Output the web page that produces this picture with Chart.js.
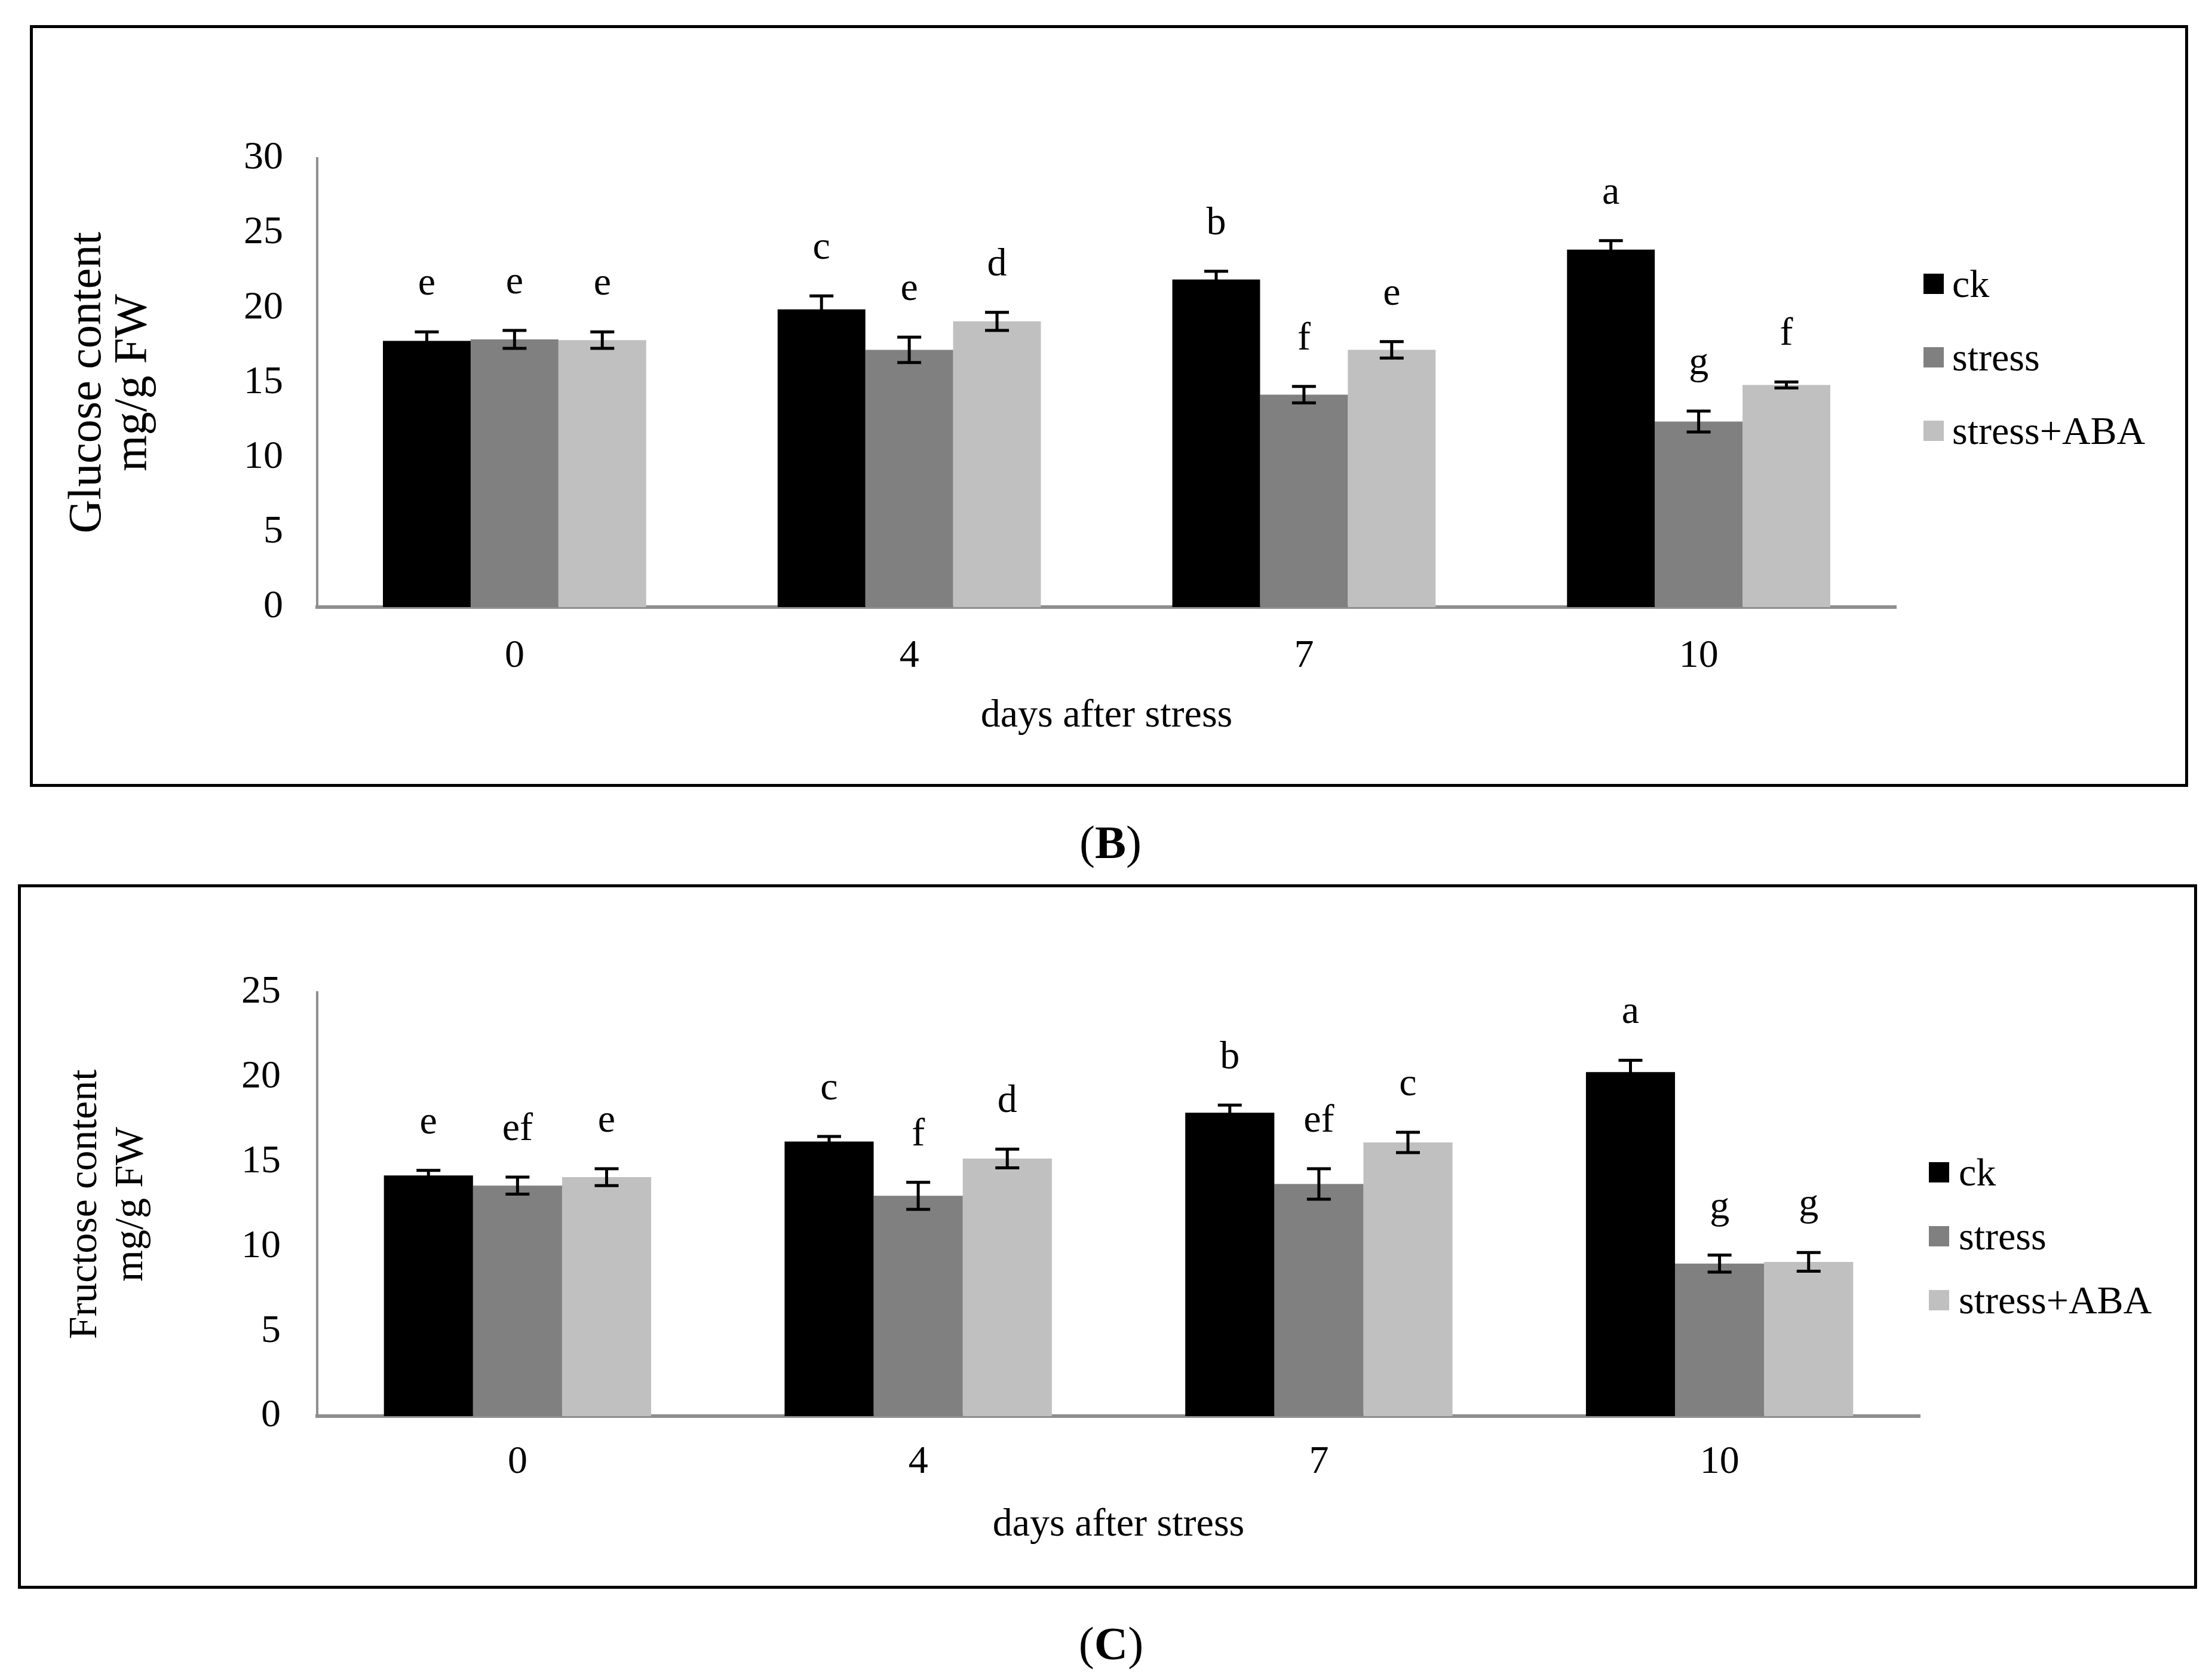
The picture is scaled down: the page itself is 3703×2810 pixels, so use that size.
<!DOCTYPE html>
<html>
<head>
<meta charset="utf-8">
<title>Glucose and fructose content after stress</title>
<script src="https://cdn.jsdelivr.net/npm/chart.js@4.4.1/dist/chart.umd.min.js"></script>
<style>
    body {
        margin: 0;
        width: 3703px;
        height: 2810px;
        background: #fff;
        position: relative;
        overflow: hidden;
        font-family: 'Liberation Serif', 'Times New Roman', serif;
    }
    .frame {
        position: absolute;
        border: 5px solid #000;
        box-sizing: border-box;
    }
    canvas {
        position: absolute;
    }
    .caption {
        position: absolute;
        font-size: 78px;
        line-height: 1;
        transform: translate(-50%, -50%);
        white-space: nowrap;
    }
</style>
</head>
<body>
<div class="frame" style="left:50px;top:42px;width:3613px;height:1275px"></div>
<canvas id="glucose-chart" width="3600" height="1260" style="left:55px;top:47px"></canvas>
<div class="caption" style="left:1859px;top:1410px">(<b>B</b>)</div>

<div class="frame" style="left:30px;top:1480px;width:3648px;height:1179px"></div>
<canvas id="fructose-chart" width="3638" height="1166" style="left:35px;top:1485px"></canvas>
<div class="caption" style="left:1860px;top:2751px">(<b>C</b>)</div>

<script>
// Days after stress (x categories)
const days = ['0', '4', '7', '10'];
const seriesNames = ['ck', 'stress', 'stress+ABA'];
const seriesColors = ['#000000', '#808080', '#c0c0c0'];

// Glucose content, mg/g FW
const glucoseCk = [17.8, 19.9, 21.9, 23.9];
const glucoseStress = [17.9, 17.2, 14.2, 12.4];
const glucoseAba = [17.85, 19.1, 17.2, 14.85];
const glucoseCkErr = [0.6, 0.9, 0.55, 0.6];
const glucoseStressErr = [0.6, 0.85, 0.55, 0.7];
const glucoseAbaErr = [0.55, 0.6, 0.55, 0.2];
const glucoseCkLetters = ['e', 'c', 'b', 'a'];
const glucoseStressLetters = ['e', 'e', 'f', 'g'];
const glucoseAbaLetters = ['e', 'd', 'e', 'f'];
const glucoseTicks = [0, 5, 10, 15, 20, 25, 30];

// Fructose content, mg/g FW
const fructoseCk = [14.2, 16.2, 17.9, 20.3];
const fructoseStress = [13.6, 13.0, 13.7, 9.0];
const fructoseAba = [14.1, 15.2, 16.15, 9.1];
const fructoseCkErr = [0.3, 0.3, 0.45, 0.7];
const fructoseStressErr = [0.5, 0.8, 0.9, 0.5];
const fructoseAbaErr = [0.5, 0.55, 0.6, 0.55];
const fructoseCkLetters = ['e', 'c', 'b', 'a'];
const fructoseStressLetters = ['ef', 'f', 'ef', 'g'];
const fructoseAbaLetters = ['e', 'd', 'c', 'g'];
const fructoseTicks = [0, 5, 10, 15, 20, 25];

const FONT = "'Liberation Serif', 'Times New Roman', serif";
const AXIS_GRAY = '#8e8e8e';

Chart.defaults.font.family = FONT;
Chart.defaults.color = '#000';

// Error bars (mean +/- SD) drawn over every bar
const errorBarPlugin = {
    id: 'errorBars',
    afterDatasetsDraw(chart, args, opts) {
        const ctx = chart.ctx;
        const yScale = chart.scales.y;
        const half = opts.capWidth / 2;
        ctx.save();
        ctx.strokeStyle = '#000';
        ctx.lineWidth = opts.lineWidth;
        chart.data.datasets.forEach((ds, i) => {
            chart.getDatasetMeta(i).data.forEach((bar, j) => {
                const top = yScale.getPixelForValue(ds.data[j] + ds.errors[j]);
                const bottom = yScale.getPixelForValue(ds.data[j] - ds.errors[j]);
                ctx.beginPath();
                ctx.moveTo(bar.x, top);
                ctx.lineTo(bar.x, bottom);
                ctx.moveTo(bar.x - half, top);
                ctx.lineTo(bar.x + half, top);
                ctx.moveTo(bar.x - half, bottom);
                ctx.lineTo(bar.x + half, bottom);
                ctx.stroke();
            });
        });
        ctx.restore();
    }
};

// Significance letters above the error bars
const letterPlugin = {
    id: 'letters',
    afterDatasetsDraw(chart, args, opts) {
        const ctx = chart.ctx;
        const yScale = chart.scales.y;
        ctx.save();
        ctx.fillStyle = '#000';
        ctx.font = opts.size + 'px ' + FONT;
        ctx.textAlign = 'center';
        ctx.textBaseline = 'alphabetic';
        chart.data.datasets.forEach((ds, i) => {
            chart.getDatasetMeta(i).data.forEach((bar, j) => {
                const top = yScale.getPixelForValue(ds.data[j] + ds.errors[j]);
                ctx.fillText(ds.letters[j], bar.x, top - opts.gap);
            });
        });
        ctx.restore();
    }
};

// Legend on the right, Excel style (square marker + label)
const sideLegendPlugin = {
    id: 'sideLegend',
    afterDraw(chart, args, opts) {
        const ctx = chart.ctx;
        const area = chart.chartArea;
        const left = area.right + opts.dx;
        ctx.save();
        ctx.font = opts.size + 'px ' + FONT;
        ctx.textAlign = 'left';
        ctx.textBaseline = 'alphabetic';
        chart.data.datasets.forEach((ds, i) => {
            const cy = area.top + opts.rowTop + i * opts.rowGap;
            ctx.fillStyle = ds.backgroundColor;
            ctx.fillRect(left, cy - opts.box / 2, opts.box, opts.box);
            ctx.fillStyle = '#000';
            ctx.fillText(ds.label, left + opts.textGap, cy + 22);
        });
        ctx.restore();
    }
};

function buildDatasets(values, errors, letters) {
    return values.map((data, i) => ({
        label: seriesNames[i],
        data: data,
        errors: errors[i],
        letters: letters[i],
        backgroundColor: seriesColors[i],
        borderWidth: 0,
        categoryPercentage: 0.667,
        barPercentage: 1.0
    }));
}

function makeChart(canvasId, setup) {
    const ctx = document.getElementById(canvasId).getContext('2d');
    return new Chart(ctx, {
        type: 'bar',
        data: {
            labels: days,
            datasets: buildDatasets(setup.values, setup.errors, setup.letters)
        },
        options: {
            responsive: false,
            animation: false,
            layout: { padding: setup.padding },
            plugins: {
                legend: { display: false },
                tooltip: { enabled: false },
                errorBars: { capWidth: 40, lineWidth: 5 },
                letters: { size: 66, gap: 62 },
                sideLegend: setup.legend
            },
            scales: {
                x: {
                    grid: { display: false, drawTicks: false },
                    border: { color: AXIS_GRAY, width: 6 },
                    ticks: { font: { size: 66 }, padding: setup.xTickPad, color: '#000' },
                    title: {
                        display: true,
                        text: 'days after stress',
                        font: { size: 66 },
                        padding: { top: 0, bottom: setup.xTitlePad },
                        color: '#000'
                    },
                    afterFit: s => { s.height = setup.xHeight; }
                },
                y: {
                    min: 0,
                    max: setup.ticks[setup.ticks.length - 1],
                    grid: { display: false, drawTicks: false },
                    border: { color: AXIS_GRAY, width: 4 },
                    afterBuildTicks: s => { s.ticks = setup.ticks.map(v => ({ value: v })); },
                    ticks: { font: { size: 66 }, padding: setup.yTickPad, color: '#000' },
                    title: {
                        display: true,
                        text: setup.yTitle,
                        font: { size: setup.yTitleSize, lineHeight: setup.yTitleLine },
                        padding: { top: setup.yTitlePad, bottom: 0 },
                        color: '#000'
                    },
                    afterFit: s => { s.width = setup.yWidth; }
                }
            }
        },
        plugins: [errorBarPlugin, letterPlugin, sideLegendPlugin]
    });
}

makeChart('glucose-chart', {
    values: [glucoseCk, glucoseStress, glucoseAba],
    errors: [glucoseCkErr, glucoseStressErr, glucoseAbaErr],
    letters: [glucoseCkLetters, glucoseStressLetters, glucoseAbaLetters],
    ticks: glucoseTicks,
    yTitle: ['Glucose content', 'mg/g FW'],
    yTitleSize: 78,
    yTitleLine: 0.98,
    yTitlePad: 54,
    yTickPad: 57,
    yWidth: 476,
    xTickPad: 43,
    xTitlePad: 28,
    xHeight: 250,
    padding: { left: 0, top: 218, right: 481, bottom: 41 },
    legend: { dx: 46, rowTop: 210, rowGap: 123, box: 34, textGap: 48, size: 66 }
});

makeChart('fructose-chart', {
    values: [fructoseCk, fructoseStress, fructoseAba],
    errors: [fructoseCkErr, fructoseStressErr, fructoseAbaErr],
    letters: [fructoseCkLetters, fructoseStressLetters, fructoseAbaLetters],
    ticks: fructoseTicks,
    yTitle: ['Fructose content', 'mg/g FW'],
    yTitleSize: 68,
    yTitleLine: 1.13,
    yTitlePad: 70,
    yTickPad: 61,
    yWidth: 496,
    xTickPad: 38,
    xTitlePad: 18,
    xHeight: 240,
    padding: { left: 0, top: 176, right: 459, bottom: 41 },
    legend: { dx: 15, rowTop: 301, rowGap: 107, box: 34, textGap: 50, size: 66 }
});
</script>
</body>
</html>
